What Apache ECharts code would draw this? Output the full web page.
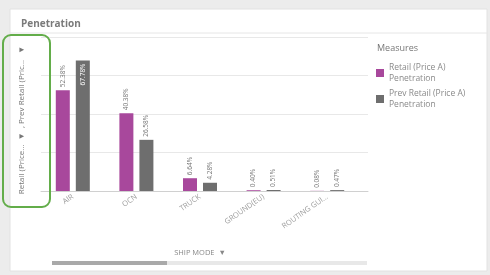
<!DOCTYPE html>
<html><head><meta charset="utf-8">
<script src="https://cdn.jsdelivr.net/npm/echarts@6/dist/echarts.min.js"></script>
<style>html,body{margin:0;padding:0;background:#ececec;}#c{width:490px;height:275px;}</style>
</head><body><div id="c"></div>
<script>
var categories = ['AIR', 'OCN', 'TRUCK', 'GROUND(EU)', 'ROUTING GUI...'];
var retail = [52.38, 40.38, 6.64, 0.40, 0.08];
var prevRetail = [67.78, 26.58, 4.28, 0.51, 0.47];
var seriesNames = ['Retail (Price A)\nPenetration', 'Prev Retail (Price A)\nPenetration'];
var yTicks = [0, 20, 40, 60, 80];

var PURPLE = '#a8489c', GRAY = '#6e6e6e';
var FONT = 'Open Sans';
var chart = echarts.init(document.getElementById('c'));

function labelCfg(color, pos) {
  return { show: true, position: pos, rotate: 90, align: pos === 'insideTop' ? 'right' : 'left',
    verticalAlign: 'middle', distance: 3, fontSize: 6.5, color: color, fontFamily: FONT,
    formatter: function (p) { return p.value.toFixed(2) + '%'; } };
}
var prevData = prevRetail.map(function (v, i) {
  if (v > 60) return { value: v, label: labelCfg('#ffffff', 'insideTop') };
  return v;
});

chart.setOption({
  animation: false,
  textStyle: { fontFamily: FONT },
  title: [
    { text: 'Penetration', left: 16, top: 14, textStyle: { fontSize: 10, fontWeight: 'bold', color: '#7a7a7a', fontFamily: FONT } },
    { text: 'Measures', left: 372, top: 39, textStyle: { fontSize: 9, fontWeight: 'normal', color: '#777', fontFamily: FONT } }
  ],
  legend: {
    orient: 'vertical', left: 371, top: 57, itemWidth: 8, itemHeight: 8, itemGap: 4,
    icon: 'rect', data: seriesNames,
    textStyle: { fontSize: 8.5, color: '#8a8a8a', lineHeight: 11, fontFamily: FONT }
  },
  graphic: [
    { type: 'rect', z: -10, shape: { x: 10, y: 9, width: 477, height: 262 }, style: { fill: '#ffffff', stroke: '#e2e2e2' } },
    { type: 'line', z: -5, shape: { x1: 10, y1: 33, x2: 487, y2: 33 }, style: { stroke: '#e6e6e6', lineWidth: 1 } },
    { type: 'rect', z: 10, shape: { x: 3, y: 35, width: 47, height: 172, r: 8 }, style: { fill: 'none', stroke: '#63ad4a', lineWidth: 2 } },
    { type: 'rect', shape: { x: 52, y: 261, width: 315, height: 4 }, style: { fill: '#e8e8e8' } },
    { type: 'rect', shape: { x: 52, y: 261, width: 115, height: 4 }, style: { fill: '#a9a9a9' } }
  ],
  grid: [
    { left: 41, top: 37, width: 327, height: 154 },
    { left: 41, top: 37, width: 318, height: 154 }
  ],
  xAxis: [
    { gridIndex: 0, type: 'category', data: [''], axisLabel: { show: false }, axisTick: { show: false },
      axisLine: { lineStyle: { color: '#d0d0d0' } } },
    { gridIndex: 1, type: 'category', data: categories,
      axisLine: { show: false }, axisTick: { show: false },
      axisLabel: { rotate: 35, fontSize: 7.5, color: '#9a9a9a', margin: 5, interval: 0, fontFamily: FONT },
      name: 'SHIP MODE  ▼', nameLocation: 'middle', nameGap: 58,
      nameTextStyle: { fontSize: 7.5, color: '#888', fontFamily: FONT } }
  ],
  yAxis: [
    { gridIndex: 0, type: 'value', min: yTicks[0], max: yTicks[yTicks.length - 1], interval: 20,
      axisLabel: { show: false }, axisLine: { show: false }, axisTick: { show: false },
      splitLine: { lineStyle: { color: '#e8e8e8' } },
      name: 'Retail (Price...  ▼  , Prev Retail (Pric...   ▼', nameLocation: 'middle', nameRotate: 90, nameGap: 15,
      nameTextStyle: { fontSize: 8, color: '#777', fontFamily: FONT, padding: [0, 12, 0, 0] } },
    { gridIndex: 1, type: 'value', min: 0, max: 80, show: false }
  ],
  series: [
    { name: seriesNames[0], type: 'bar', xAxisIndex: 1, yAxisIndex: 1, data: retail,
      barWidth: 14, barGap: '43%', itemStyle: { color: PURPLE }, label: labelCfg('#777', 'top') },
    { name: seriesNames[1], type: 'bar', xAxisIndex: 1, yAxisIndex: 1, data: prevData,
      barWidth: 14, itemStyle: { color: GRAY }, label: labelCfg('#777', 'top') }
  ]
});
</script></body></html>
